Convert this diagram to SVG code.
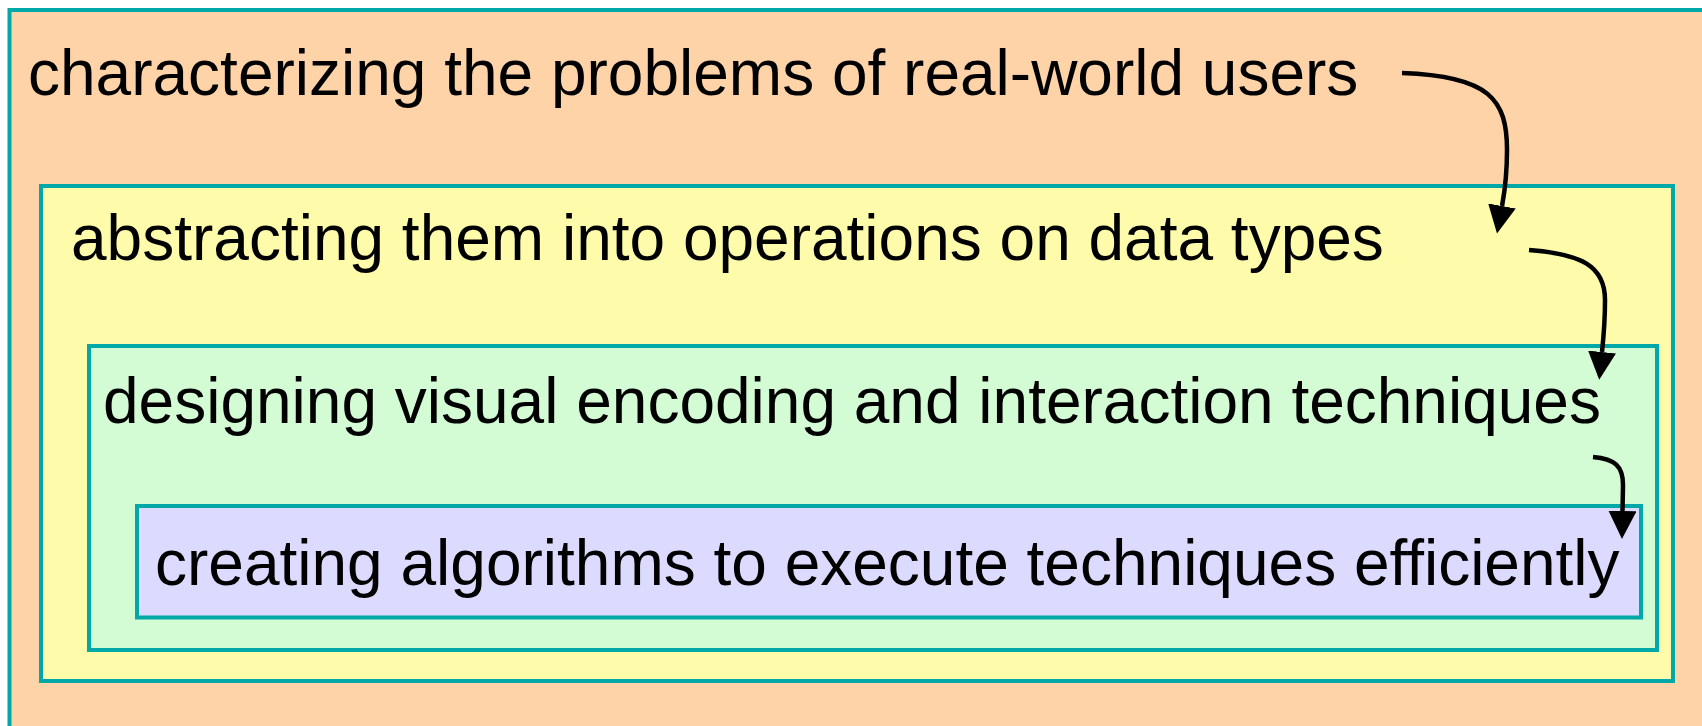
<svg xmlns="http://www.w3.org/2000/svg" width="1702" height="726" viewBox="0 0 1702 726">
<style>
.box{stroke:#00A8A8;stroke-width:4}
.lbl{font-family:"Liberation Sans",Arial,sans-serif;font-size:64px;fill:#000}
.conn{fill:none;stroke:#000;stroke-width:4.5;marker-end:url(#ah)}
</style>
<defs>
<marker id="ah" markerUnits="userSpaceOnUse" markerWidth="28" markerHeight="28" viewBox="0 0 28 28" refX="0" refY="14" orient="auto">
<path d="M0,0 L28,14 L0,28 z" fill="#000"/>
</marker>
</defs>
<rect width="1702" height="726" fill="#FFFFFF"/>
<g id="n1">
<rect class="box" x="9.5" y="10" width="1760" height="780" fill="#FED3A8"/>
<text class="lbl" x="28" y="95">characterizing the problems of real-world users</text>
</g>
<g id="n2">
<rect class="box" x="41" y="186" width="1632" height="495" fill="#FEFCAA"/>
<text class="lbl" x="71" y="260">abstracting them into operations on data types</text>
</g>
<g id="n3">
<rect class="box" x="89" y="346" width="1568" height="304" fill="#D3FCD5"/>
<text class="lbl" x="103" y="423">designing visual encoding and interaction techniques</text>
</g>
<g id="n4">
<rect class="box" x="137" y="506" width="1504" height="111.5" fill="#DCDAFE"/>
<text class="lbl" x="155" y="585">creating algorithms to execute techniques efficiently</text>
</g>
<g id="connectors">
<path class="conn" d="M1402,73 C1490,76 1507,100 1507,150 C1507,180 1504,195 1502,206"/>
<path class="conn" d="M1529,250 C1580,254 1605,265 1605,300 C1605,325 1603,342 1602,352"/>
<path class="conn" d="M1593,457 C1615,459 1623,466 1623,485 L1622.5,511"/>
</g>
</svg>
